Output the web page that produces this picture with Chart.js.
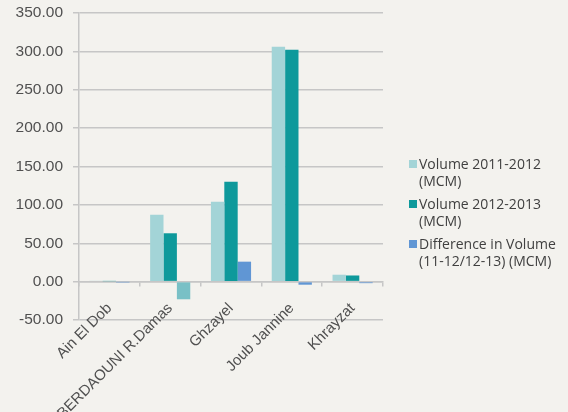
<!DOCTYPE html>
<html>
<head>
<meta charset="utf-8">
<script src="https://cdn.jsdelivr.net/npm/chart.js@4/dist/chart.umd.min.js"></script>
<style>
  html, body { margin: 0; padding: 0; background: #f3f2ee; }
  #wrap { position: relative; width: 568px; height: 412px; }
  #legend { position: absolute; left: 409px; top: 155px; font-family: "Open Sans", sans-serif; font-size: 14px; line-height: 17px; color: #404040; }
  .item { position: relative; padding-left: 10px; margin-bottom: 6px; }
  .sw { position: absolute; left: 0; top: 5px; width: 8px; height: 8px; }
</style>
</head>
<body>
<div id="wrap">
  <canvas id="c" width="568" height="412"></canvas>
  <div id="legend"></div>
</div>
<script>
const categories = ["Ain El Dob", "BERDAOUNI R.Damas", "Ghzayel", "Joub Jannine", "Khrayzat"];
const seriesNames = ["Volume 2011-2012\n(MCM)", "Volume 2012-2013\n(MCM)", "Difference in Volume\n(11-12/12-13) (MCM)"];
const vol2011 = [0.8, 87, 104, 306, 9];
const vol2012 = [0.6, 63, 130, 302, 8];
const diffVol = [-0.3, -23, 26, -4, -2];
const yTicks = [-50, 0, 50, 100, 150, 200, 250, 300, 350];

const colors = ["#a3d4d7", "#0e999b", "#6096d4"];
const diffColors = diffVol.map((v, i) => i === 1 ? "#79c0c6" : colors[2]);
const FONT = "'Liberation Sans', Arial, sans-serif";

const chart = new Chart(document.getElementById("c"), {
  type: "bar",
  data: {
    labels: categories,
    datasets: [
      { label: seriesNames[0], data: vol2011, backgroundColor: colors[0] },
      { label: seriesNames[1], data: vol2012, backgroundColor: colors[1] },
      { label: seriesNames[2], data: diffVol, backgroundColor: diffColors }
    ]
  },
  options: {
    responsive: false,
    animation: false,
    devicePixelRatio: 1,
    layout: { padding: { left: 14, right: 185, top: 13, bottom: 92 } },
    plugins: { legend: { display: false }, tooltip: { enabled: false } },
    datasets: { bar: { categoryPercentage: 0.66, barPercentage: 1.0 } },
    scales: {
      y: {
        min: -50, max: 350,
        afterBuildTicks: (s) => { s.ticks = yTicks.map(v => ({ value: v })); },
        afterFit: (s) => { s.width = 65; s.paddingTop = 0; s.paddingBottom = 0; },
        ticks: {
          callback: (v) => Number(v).toFixed(2),
          font: { family: FONT, size: 15.5 },
          color: "#505050",
          padding: 10
        },
        grid: { color: "#c6c6c6", lineWidth: 1.5, tickLength: 6 },
        border: { display: true, color: "#c6c6c6", width: 1.5 }
      },
      x: {
        position: { y: 0 },
        offset: true,
        ticks: {
          minRotation: 45, maxRotation: 45,
          font: { family: FONT, size: 15 },
          color: "#505050",
          padding: 14
        },
        grid: { display: true, drawOnChartArea: false, drawTicks: true, tickLength: 4, color: "#c6c6c6", lineWidth: 1.5, offset: true },
        border: { display: true, color: "#c6c6c6", width: 1.5 }
      }
    }
  }
});

const legend = document.getElementById("legend");
seriesNames.forEach((name, i) => {
  const d = document.createElement("div");
  d.className = "item";
  const sw = document.createElement("span");
  sw.className = "sw";
  sw.style.background = colors[i];
  d.appendChild(sw);
  name.split("\n").forEach((line, j) => {
    if (j) d.appendChild(document.createElement("br"));
    d.appendChild(document.createTextNode(line));
  });
  legend.appendChild(d);
});
</script>
</body>
</html>
